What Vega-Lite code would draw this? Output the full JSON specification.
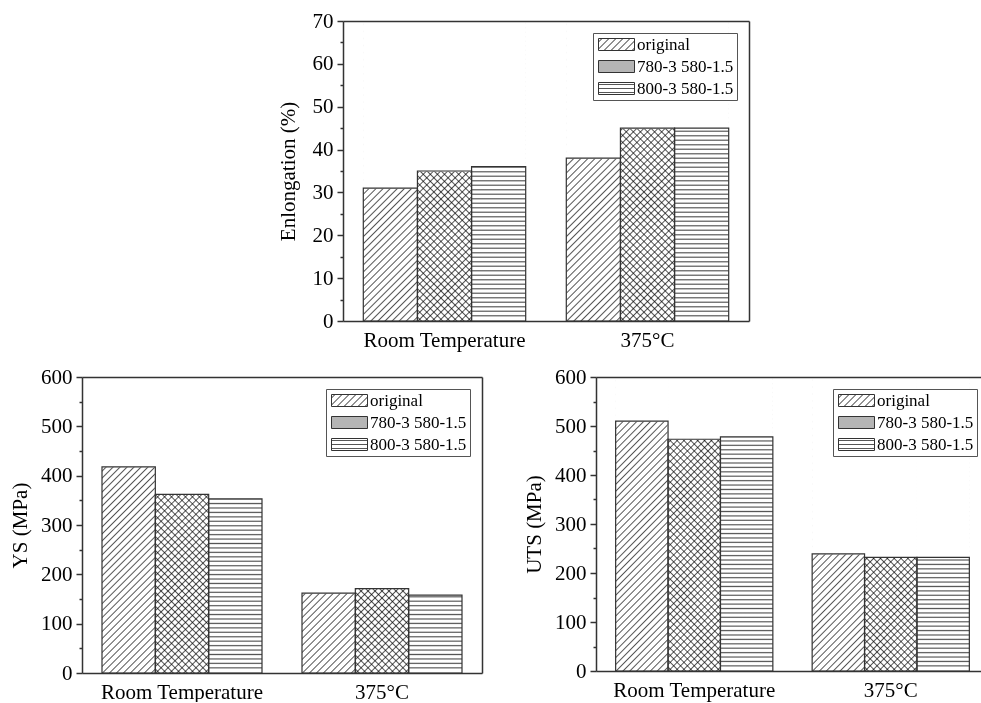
{
"$schema": "https://vega.github.io/schema/vega-lite/v6.json",
"background": "white",
"padding": {"left": 9, "top": 10, "right": 0, "bottom": 0},
"spacing": 16,
"resolve": {"scale": {"stroke": "independent", "xOffset": "independent"}, "legend": {"stroke": "independent"}},
"config": {
  "view": {"stroke": null},
  "axis": {"labelFont": "Liberation Serif", "labelFontSize": 21, "labelColor": "#000", "titleFont": "Liberation Serif", "titleFontSize": 21, "titleFontWeight": "normal", "titleColor": "#000", "domainColor": "#333", "domainWidth": 1.5, "tickColor": "#333", "tickWidth": 1.5, "grid": false, "zindex": 1, "labelPadding": 4, "titlePadding": 10},
  "legend": {"symbolType": "M-3,-1H3V1H-3Z", "symbolSize": 144, "symbolOffset": 12, "labelOffset": 12, "padding": 3, "rowPadding": 4, "strokeColor": "#555", "fillColor": "white", "labelFont": "Liberation Serif", "labelFontSize": 17, "labelColor": "#000", "symbolStrokeWidth": 1, "labelLimit": 300},
  "style": {
    "hatchA": {"color": {"gradient": "linear", "x1": 0, "y1": 0, "x2": 0.2056, "y2": 1.1414, "stops": [
{"offset":0.006,"color":"#fff"},{"offset":0.01,"color":"#555"},{"offset":0.014,"color":"#fff"},
{"offset":0.026,"color":"#fff"},{"offset":0.03,"color":"#555"},{"offset":0.034,"color":"#fff"},
{"offset":0.046,"color":"#fff"},{"offset":0.05,"color":"#555"},{"offset":0.054,"color":"#fff"},
{"offset":0.066,"color":"#fff"},{"offset":0.07,"color":"#555"},{"offset":0.074,"color":"#fff"},
{"offset":0.086,"color":"#fff"},{"offset":0.09,"color":"#555"},{"offset":0.094,"color":"#fff"},
{"offset":0.106,"color":"#fff"},{"offset":0.11,"color":"#555"},{"offset":0.114,"color":"#fff"},
{"offset":0.126,"color":"#fff"},{"offset":0.13,"color":"#555"},{"offset":0.134,"color":"#fff"},
{"offset":0.146,"color":"#fff"},{"offset":0.15,"color":"#555"},{"offset":0.154,"color":"#fff"},
{"offset":0.166,"color":"#fff"},{"offset":0.17,"color":"#555"},{"offset":0.174,"color":"#fff"},
{"offset":0.186,"color":"#fff"},{"offset":0.19,"color":"#555"},{"offset":0.194,"color":"#fff"},
{"offset":0.206,"color":"#fff"},{"offset":0.21,"color":"#555"},{"offset":0.214,"color":"#fff"},
{"offset":0.226,"color":"#fff"},{"offset":0.23,"color":"#555"},{"offset":0.234,"color":"#fff"},
{"offset":0.246,"color":"#fff"},{"offset":0.25,"color":"#555"},{"offset":0.254,"color":"#fff"},
{"offset":0.266,"color":"#fff"},{"offset":0.27,"color":"#555"},{"offset":0.274,"color":"#fff"},
{"offset":0.286,"color":"#fff"},{"offset":0.29,"color":"#555"},{"offset":0.294,"color":"#fff"},
{"offset":0.306,"color":"#fff"},{"offset":0.31,"color":"#555"},{"offset":0.314,"color":"#fff"},
{"offset":0.326,"color":"#fff"},{"offset":0.33,"color":"#555"},{"offset":0.334,"color":"#fff"},
{"offset":0.346,"color":"#fff"},{"offset":0.35,"color":"#555"},{"offset":0.354,"color":"#fff"},
{"offset":0.366,"color":"#fff"},{"offset":0.37,"color":"#555"},{"offset":0.374,"color":"#fff"},
{"offset":0.386,"color":"#fff"},{"offset":0.39,"color":"#555"},{"offset":0.394,"color":"#fff"},
{"offset":0.406,"color":"#fff"},{"offset":0.41,"color":"#555"},{"offset":0.414,"color":"#fff"},
{"offset":0.426,"color":"#fff"},{"offset":0.43,"color":"#555"},{"offset":0.434,"color":"#fff"},
{"offset":0.446,"color":"#fff"},{"offset":0.45,"color":"#555"},{"offset":0.454,"color":"#fff"},
{"offset":0.466,"color":"#fff"},{"offset":0.47,"color":"#555"},{"offset":0.474,"color":"#fff"},
{"offset":0.486,"color":"#fff"},{"offset":0.49,"color":"#555"},{"offset":0.494,"color":"#fff"},
{"offset":0.506,"color":"#fff"},{"offset":0.51,"color":"#555"},{"offset":0.514,"color":"#fff"},
{"offset":0.526,"color":"#fff"},{"offset":0.53,"color":"#555"},{"offset":0.534,"color":"#fff"},
{"offset":0.546,"color":"#fff"},{"offset":0.55,"color":"#555"},{"offset":0.554,"color":"#fff"},
{"offset":0.566,"color":"#fff"},{"offset":0.57,"color":"#555"},{"offset":0.574,"color":"#fff"},
{"offset":0.586,"color":"#fff"},{"offset":0.59,"color":"#555"},{"offset":0.594,"color":"#fff"},
{"offset":0.606,"color":"#fff"},{"offset":0.61,"color":"#555"},{"offset":0.614,"color":"#fff"},
{"offset":0.626,"color":"#fff"},{"offset":0.63,"color":"#555"},{"offset":0.634,"color":"#fff"},
{"offset":0.646,"color":"#fff"},{"offset":0.65,"color":"#555"},{"offset":0.654,"color":"#fff"},
{"offset":0.666,"color":"#fff"},{"offset":0.67,"color":"#555"},{"offset":0.674,"color":"#fff"},
{"offset":0.686,"color":"#fff"},{"offset":0.69,"color":"#555"},{"offset":0.694,"color":"#fff"},
{"offset":0.706,"color":"#fff"},{"offset":0.71,"color":"#555"},{"offset":0.714,"color":"#fff"},
{"offset":0.726,"color":"#fff"},{"offset":0.73,"color":"#555"},{"offset":0.734,"color":"#fff"},
{"offset":0.746,"color":"#fff"},{"offset":0.75,"color":"#555"},{"offset":0.754,"color":"#fff"},
{"offset":0.766,"color":"#fff"},{"offset":0.77,"color":"#555"},{"offset":0.774,"color":"#fff"},
{"offset":0.786,"color":"#fff"},{"offset":0.79,"color":"#555"},{"offset":0.794,"color":"#fff"},
{"offset":0.806,"color":"#fff"},{"offset":0.81,"color":"#555"},{"offset":0.814,"color":"#fff"},
{"offset":0.826,"color":"#fff"},{"offset":0.83,"color":"#555"},{"offset":0.834,"color":"#fff"},
{"offset":0.846,"color":"#fff"},{"offset":0.85,"color":"#555"},{"offset":0.854,"color":"#fff"},
{"offset":0.866,"color":"#fff"},{"offset":0.87,"color":"#555"},{"offset":0.874,"color":"#fff"},
{"offset":0.886,"color":"#fff"},{"offset":0.89,"color":"#555"},{"offset":0.894,"color":"#fff"},
{"offset":0.906,"color":"#fff"},{"offset":0.91,"color":"#555"},{"offset":0.914,"color":"#fff"},
{"offset":0.926,"color":"#fff"},{"offset":0.93,"color":"#555"},{"offset":0.934,"color":"#fff"},
{"offset":0.946,"color":"#fff"},{"offset":0.95,"color":"#555"},{"offset":0.954,"color":"#fff"},
{"offset":0.966,"color":"#fff"},{"offset":0.97,"color":"#555"},{"offset":0.974,"color":"#fff"},
{"offset":0.986,"color":"#fff"},{"offset":0.99,"color":"#555"},{"offset":0.994,"color":"#fff"}
    ]}},
    "hatchB": {"color": {"gradient": "linear", "x1": 1, "y1": 0, "x2": 0.7944, "y2": 1.1414, "stops": [
{"offset":0.006,"color":"#fff"},{"offset":0.01,"color":"#555"},{"offset":0.014,"color":"#fff"},
{"offset":0.026,"color":"#fff"},{"offset":0.03,"color":"#555"},{"offset":0.034,"color":"#fff"},
{"offset":0.046,"color":"#fff"},{"offset":0.05,"color":"#555"},{"offset":0.054,"color":"#fff"},
{"offset":0.066,"color":"#fff"},{"offset":0.07,"color":"#555"},{"offset":0.074,"color":"#fff"},
{"offset":0.086,"color":"#fff"},{"offset":0.09,"color":"#555"},{"offset":0.094,"color":"#fff"},
{"offset":0.106,"color":"#fff"},{"offset":0.11,"color":"#555"},{"offset":0.114,"color":"#fff"},
{"offset":0.126,"color":"#fff"},{"offset":0.13,"color":"#555"},{"offset":0.134,"color":"#fff"},
{"offset":0.146,"color":"#fff"},{"offset":0.15,"color":"#555"},{"offset":0.154,"color":"#fff"},
{"offset":0.166,"color":"#fff"},{"offset":0.17,"color":"#555"},{"offset":0.174,"color":"#fff"},
{"offset":0.186,"color":"#fff"},{"offset":0.19,"color":"#555"},{"offset":0.194,"color":"#fff"},
{"offset":0.206,"color":"#fff"},{"offset":0.21,"color":"#555"},{"offset":0.214,"color":"#fff"},
{"offset":0.226,"color":"#fff"},{"offset":0.23,"color":"#555"},{"offset":0.234,"color":"#fff"},
{"offset":0.246,"color":"#fff"},{"offset":0.25,"color":"#555"},{"offset":0.254,"color":"#fff"},
{"offset":0.266,"color":"#fff"},{"offset":0.27,"color":"#555"},{"offset":0.274,"color":"#fff"},
{"offset":0.286,"color":"#fff"},{"offset":0.29,"color":"#555"},{"offset":0.294,"color":"#fff"},
{"offset":0.306,"color":"#fff"},{"offset":0.31,"color":"#555"},{"offset":0.314,"color":"#fff"},
{"offset":0.326,"color":"#fff"},{"offset":0.33,"color":"#555"},{"offset":0.334,"color":"#fff"},
{"offset":0.346,"color":"#fff"},{"offset":0.35,"color":"#555"},{"offset":0.354,"color":"#fff"},
{"offset":0.366,"color":"#fff"},{"offset":0.37,"color":"#555"},{"offset":0.374,"color":"#fff"},
{"offset":0.386,"color":"#fff"},{"offset":0.39,"color":"#555"},{"offset":0.394,"color":"#fff"},
{"offset":0.406,"color":"#fff"},{"offset":0.41,"color":"#555"},{"offset":0.414,"color":"#fff"},
{"offset":0.426,"color":"#fff"},{"offset":0.43,"color":"#555"},{"offset":0.434,"color":"#fff"},
{"offset":0.446,"color":"#fff"},{"offset":0.45,"color":"#555"},{"offset":0.454,"color":"#fff"},
{"offset":0.466,"color":"#fff"},{"offset":0.47,"color":"#555"},{"offset":0.474,"color":"#fff"},
{"offset":0.486,"color":"#fff"},{"offset":0.49,"color":"#555"},{"offset":0.494,"color":"#fff"},
{"offset":0.506,"color":"#fff"},{"offset":0.51,"color":"#555"},{"offset":0.514,"color":"#fff"},
{"offset":0.526,"color":"#fff"},{"offset":0.53,"color":"#555"},{"offset":0.534,"color":"#fff"},
{"offset":0.546,"color":"#fff"},{"offset":0.55,"color":"#555"},{"offset":0.554,"color":"#fff"},
{"offset":0.566,"color":"#fff"},{"offset":0.57,"color":"#555"},{"offset":0.574,"color":"#fff"},
{"offset":0.586,"color":"#fff"},{"offset":0.59,"color":"#555"},{"offset":0.594,"color":"#fff"},
{"offset":0.606,"color":"#fff"},{"offset":0.61,"color":"#555"},{"offset":0.614,"color":"#fff"},
{"offset":0.626,"color":"#fff"},{"offset":0.63,"color":"#555"},{"offset":0.634,"color":"#fff"},
{"offset":0.646,"color":"#fff"},{"offset":0.65,"color":"#555"},{"offset":0.654,"color":"#fff"},
{"offset":0.666,"color":"#fff"},{"offset":0.67,"color":"#555"},{"offset":0.674,"color":"#fff"},
{"offset":0.686,"color":"#fff"},{"offset":0.69,"color":"#555"},{"offset":0.694,"color":"#fff"},
{"offset":0.706,"color":"#fff"},{"offset":0.71,"color":"#555"},{"offset":0.714,"color":"#fff"},
{"offset":0.726,"color":"#fff"},{"offset":0.73,"color":"#555"},{"offset":0.734,"color":"#fff"},
{"offset":0.746,"color":"#fff"},{"offset":0.75,"color":"#555"},{"offset":0.754,"color":"#fff"},
{"offset":0.766,"color":"#fff"},{"offset":0.77,"color":"#555"},{"offset":0.774,"color":"#fff"},
{"offset":0.786,"color":"#fff"},{"offset":0.79,"color":"#555"},{"offset":0.794,"color":"#fff"},
{"offset":0.806,"color":"#fff"},{"offset":0.81,"color":"#555"},{"offset":0.814,"color":"#fff"},
{"offset":0.826,"color":"#fff"},{"offset":0.83,"color":"#555"},{"offset":0.834,"color":"#fff"},
{"offset":0.846,"color":"#fff"},{"offset":0.85,"color":"#555"},{"offset":0.854,"color":"#fff"},
{"offset":0.866,"color":"#fff"},{"offset":0.87,"color":"#555"},{"offset":0.874,"color":"#fff"},
{"offset":0.886,"color":"#fff"},{"offset":0.89,"color":"#555"},{"offset":0.894,"color":"#fff"},
{"offset":0.906,"color":"#fff"},{"offset":0.91,"color":"#555"},{"offset":0.914,"color":"#fff"},
{"offset":0.926,"color":"#fff"},{"offset":0.93,"color":"#555"},{"offset":0.934,"color":"#fff"},
{"offset":0.946,"color":"#fff"},{"offset":0.95,"color":"#555"},{"offset":0.954,"color":"#fff"},
{"offset":0.966,"color":"#fff"},{"offset":0.97,"color":"#555"},{"offset":0.974,"color":"#fff"},
{"offset":0.986,"color":"#fff"},{"offset":0.99,"color":"#555"},{"offset":0.994,"color":"#fff"}
    ]}},
    "hatchH": {"color": {"gradient": "linear", "x1": 0, "y1": 0, "x2": 0, "y2": 1, "stops": [
{"offset":0.0035,"color":"#fff"},{"offset":0.0075,"color":"#555"},{"offset":0.0115,"color":"#fff"},
{"offset":0.0185,"color":"#fff"},{"offset":0.0225,"color":"#555"},{"offset":0.0265,"color":"#fff"},
{"offset":0.0335,"color":"#fff"},{"offset":0.0375,"color":"#555"},{"offset":0.0415,"color":"#fff"},
{"offset":0.0485,"color":"#fff"},{"offset":0.0525,"color":"#555"},{"offset":0.0565,"color":"#fff"},
{"offset":0.0635,"color":"#fff"},{"offset":0.0675,"color":"#555"},{"offset":0.0715,"color":"#fff"},
{"offset":0.0785,"color":"#fff"},{"offset":0.0825,"color":"#555"},{"offset":0.0865,"color":"#fff"},
{"offset":0.0935,"color":"#fff"},{"offset":0.0975,"color":"#555"},{"offset":0.1015,"color":"#fff"},
{"offset":0.1085,"color":"#fff"},{"offset":0.1125,"color":"#555"},{"offset":0.1165,"color":"#fff"},
{"offset":0.1235,"color":"#fff"},{"offset":0.1275,"color":"#555"},{"offset":0.1315,"color":"#fff"},
{"offset":0.1385,"color":"#fff"},{"offset":0.1425,"color":"#555"},{"offset":0.1465,"color":"#fff"},
{"offset":0.1535,"color":"#fff"},{"offset":0.1575,"color":"#555"},{"offset":0.1615,"color":"#fff"},
{"offset":0.1685,"color":"#fff"},{"offset":0.1725,"color":"#555"},{"offset":0.1765,"color":"#fff"},
{"offset":0.1835,"color":"#fff"},{"offset":0.1875,"color":"#555"},{"offset":0.1915,"color":"#fff"},
{"offset":0.1985,"color":"#fff"},{"offset":0.2025,"color":"#555"},{"offset":0.2065,"color":"#fff"},
{"offset":0.2135,"color":"#fff"},{"offset":0.2175,"color":"#555"},{"offset":0.2215,"color":"#fff"},
{"offset":0.2285,"color":"#fff"},{"offset":0.2325,"color":"#555"},{"offset":0.2365,"color":"#fff"},
{"offset":0.2435,"color":"#fff"},{"offset":0.2475,"color":"#555"},{"offset":0.2515,"color":"#fff"},
{"offset":0.2585,"color":"#fff"},{"offset":0.2625,"color":"#555"},{"offset":0.2665,"color":"#fff"},
{"offset":0.2735,"color":"#fff"},{"offset":0.2775,"color":"#555"},{"offset":0.2815,"color":"#fff"},
{"offset":0.2885,"color":"#fff"},{"offset":0.2925,"color":"#555"},{"offset":0.2965,"color":"#fff"},
{"offset":0.3035,"color":"#fff"},{"offset":0.3075,"color":"#555"},{"offset":0.3115,"color":"#fff"},
{"offset":0.3185,"color":"#fff"},{"offset":0.3225,"color":"#555"},{"offset":0.3265,"color":"#fff"},
{"offset":0.3335,"color":"#fff"},{"offset":0.3375,"color":"#555"},{"offset":0.3415,"color":"#fff"},
{"offset":0.3485,"color":"#fff"},{"offset":0.3525,"color":"#555"},{"offset":0.3565,"color":"#fff"},
{"offset":0.3635,"color":"#fff"},{"offset":0.3675,"color":"#555"},{"offset":0.3715,"color":"#fff"},
{"offset":0.3785,"color":"#fff"},{"offset":0.3825,"color":"#555"},{"offset":0.3865,"color":"#fff"},
{"offset":0.3935,"color":"#fff"},{"offset":0.3975,"color":"#555"},{"offset":0.4015,"color":"#fff"},
{"offset":0.4085,"color":"#fff"},{"offset":0.4125,"color":"#555"},{"offset":0.4165,"color":"#fff"},
{"offset":0.4235,"color":"#fff"},{"offset":0.4275,"color":"#555"},{"offset":0.4315,"color":"#fff"},
{"offset":0.4385,"color":"#fff"},{"offset":0.4425,"color":"#555"},{"offset":0.4465,"color":"#fff"},
{"offset":0.4535,"color":"#fff"},{"offset":0.4575,"color":"#555"},{"offset":0.4615,"color":"#fff"},
{"offset":0.4685,"color":"#fff"},{"offset":0.4725,"color":"#555"},{"offset":0.4765,"color":"#fff"},
{"offset":0.4835,"color":"#fff"},{"offset":0.4875,"color":"#555"},{"offset":0.4915,"color":"#fff"},
{"offset":0.4985,"color":"#fff"},{"offset":0.5025,"color":"#555"},{"offset":0.5065,"color":"#fff"},
{"offset":0.5135,"color":"#fff"},{"offset":0.5175,"color":"#555"},{"offset":0.5215,"color":"#fff"},
{"offset":0.5285,"color":"#fff"},{"offset":0.5325,"color":"#555"},{"offset":0.5365,"color":"#fff"},
{"offset":0.5435,"color":"#fff"},{"offset":0.5475,"color":"#555"},{"offset":0.5515,"color":"#fff"},
{"offset":0.5585,"color":"#fff"},{"offset":0.5625,"color":"#555"},{"offset":0.5665,"color":"#fff"},
{"offset":0.5735,"color":"#fff"},{"offset":0.5775,"color":"#555"},{"offset":0.5815,"color":"#fff"},
{"offset":0.5885,"color":"#fff"},{"offset":0.5925,"color":"#555"},{"offset":0.5965,"color":"#fff"},
{"offset":0.6035,"color":"#fff"},{"offset":0.6075,"color":"#555"},{"offset":0.6115,"color":"#fff"},
{"offset":0.6185,"color":"#fff"},{"offset":0.6225,"color":"#555"},{"offset":0.6265,"color":"#fff"},
{"offset":0.6335,"color":"#fff"},{"offset":0.6375,"color":"#555"},{"offset":0.6415,"color":"#fff"},
{"offset":0.6485,"color":"#fff"},{"offset":0.6525,"color":"#555"},{"offset":0.6565,"color":"#fff"},
{"offset":0.6635,"color":"#fff"},{"offset":0.6675,"color":"#555"},{"offset":0.6715,"color":"#fff"},
{"offset":0.6785,"color":"#fff"},{"offset":0.6825,"color":"#555"},{"offset":0.6865,"color":"#fff"},
{"offset":0.6935,"color":"#fff"},{"offset":0.6975,"color":"#555"},{"offset":0.7015,"color":"#fff"},
{"offset":0.7085,"color":"#fff"},{"offset":0.7125,"color":"#555"},{"offset":0.7165,"color":"#fff"},
{"offset":0.7235,"color":"#fff"},{"offset":0.7275,"color":"#555"},{"offset":0.7315,"color":"#fff"},
{"offset":0.7385,"color":"#fff"},{"offset":0.7425,"color":"#555"},{"offset":0.7465,"color":"#fff"},
{"offset":0.7535,"color":"#fff"},{"offset":0.7575,"color":"#555"},{"offset":0.7615,"color":"#fff"},
{"offset":0.7685,"color":"#fff"},{"offset":0.7725,"color":"#555"},{"offset":0.7765,"color":"#fff"},
{"offset":0.7835,"color":"#fff"},{"offset":0.7875,"color":"#555"},{"offset":0.7915,"color":"#fff"},
{"offset":0.7985,"color":"#fff"},{"offset":0.8025,"color":"#555"},{"offset":0.8065,"color":"#fff"},
{"offset":0.8135,"color":"#fff"},{"offset":0.8175,"color":"#555"},{"offset":0.8215,"color":"#fff"},
{"offset":0.8285,"color":"#fff"},{"offset":0.8325,"color":"#555"},{"offset":0.8365,"color":"#fff"},
{"offset":0.8435,"color":"#fff"},{"offset":0.8475,"color":"#555"},{"offset":0.8515,"color":"#fff"},
{"offset":0.8585,"color":"#fff"},{"offset":0.8625,"color":"#555"},{"offset":0.8665,"color":"#fff"},
{"offset":0.8735,"color":"#fff"},{"offset":0.8775,"color":"#555"},{"offset":0.8815,"color":"#fff"},
{"offset":0.8885,"color":"#fff"},{"offset":0.8925,"color":"#555"},{"offset":0.8965,"color":"#fff"},
{"offset":0.9035,"color":"#fff"},{"offset":0.9075,"color":"#555"},{"offset":0.9115,"color":"#fff"},
{"offset":0.9185,"color":"#fff"},{"offset":0.9225,"color":"#555"},{"offset":0.9265,"color":"#fff"},
{"offset":0.9335,"color":"#fff"},{"offset":0.9375,"color":"#555"},{"offset":0.9415,"color":"#fff"},
{"offset":0.9485,"color":"#fff"},{"offset":0.9525,"color":"#555"},{"offset":0.9565,"color":"#fff"},
{"offset":0.9635,"color":"#fff"},{"offset":0.9675,"color":"#555"},{"offset":0.9715,"color":"#fff"},
{"offset":0.9785,"color":"#fff"},{"offset":0.9825,"color":"#555"},{"offset":0.9865,"color":"#fff"}
    ]}}
  }
},
"vconcat": [
  {
    "spacing": 15,
    "resolve": {"scale": {"stroke": "independent", "xOffset": "independent"}, "legend": {"stroke": "independent"}},
    "hconcat": [
      {"width": 180, "height": 10, "data": {"values": []}, "mark": "point"},
      {
        "width": 406, "height": 300,
        "data": {"values": [
          {"condition": "Room Temperature", "series": "original", "value": 31},
          {"condition": "Room Temperature", "series": "780-3 580-1.5", "value": 35},
          {"condition": "Room Temperature", "series": "800-3 580-1.5", "value": 36},
          {"condition": "375°C", "series": "original", "value": 38},
          {"condition": "375°C", "series": "780-3 580-1.5", "value": 45},
          {"condition": "375°C", "series": "800-3 580-1.5", "value": 45}
        ]},
        "resolve": {"axis": {"x": "independent", "y": "independent"}},
        "encoding": {
          "x": {"field": "condition", "type": "nominal", "sort": null, "scale": {"domain": ["Room Temperature", "375°C"], "paddingInner": 0.2, "paddingOuter": 0.1}, "axis": null},
          "xOffset": {"field": "series", "type": "nominal", "sort": null, "scale": {"domain": ["original", "780-3 580-1.5", "800-3 580-1.5"]}}
        },
        "layer": [
          {"transform": [{"filter": {"field": "series", "oneOf": ["original", "780-3 580-1.5"]}}], "mark": {"type": "bar", "style": "hatchA"}, "encoding": {"y": {"datum": 70, "type": "quantitative", "scale": {"domain": [0, 70]}, "axis": null}, "y2": {"datum": 0}}},
          {"transform": [{"filter": {"field": "series", "equal": "780-3 580-1.5"}}], "mark": {"type": "bar", "style": "hatchB", "blend": "multiply"}, "encoding": {"y": {"datum": 70, "type": "quantitative", "scale": {"domain": [0, 70]}, "axis": null}, "y2": {"datum": 0}}},
          {"transform": [{"filter": {"field": "series", "equal": "800-3 580-1.5"}}], "mark": {"type": "bar", "style": "hatchH"}, "encoding": {"y": {"datum": 70, "type": "quantitative", "scale": {"domain": [0, 70]}, "axis": null}, "y2": {"datum": 0}}},
          {"mark": {"type": "bar", "fill": "white", "stroke": "white", "strokeWidth": 1}, "encoding": {
            "x": {"field": "condition", "type": "nominal", "sort": null, "scale": {"domain": ["Room Temperature", "375°C"], "paddingInner": 0.2, "paddingOuter": 0.1}, "axis": {"orient": "top", "title": null, "ticks": false, "labels": false, "zindex": 2}},
            "y": {"field": "value", "type": "quantitative", "stack": null, "scale": {"domain": [0, 70]}, "axis": {"orient": "right", "title": null, "ticks": false, "labels": false, "zindex": 2}},
            "y2": {"datum": 70}}},
          {"mark": {"type": "bar", "fill": "transparent", "strokeWidth": 1.2}, "encoding": {
            "x": {"field": "condition", "type": "nominal", "sort": null, "scale": {"domain": ["Room Temperature", "375°C"], "paddingInner": 0.2, "paddingOuter": 0.1}, "axis": {"orient": "bottom", "title": null, "ticks": false, "labelAngle": 0, "labelPadding": 8, "zindex": 2}},
            "y": {"field": "value", "type": "quantitative", "stack": null, "scale": {"domain": [0, 70]}, "axis": {"orient": "left", "zindex": 2, "titlePadding": 14, "title": "Enlongation (%)", "values": [0,5,10,15,20,25,30,35,40,45,50,55,60,65,70], "labelExpr": "datum.value % 10 === 0 ? datum.label : ''", "tickSize": {"condition": {"test": "datum.value % 10 !== 0", "value": 3}, "value": 6}}},
            "stroke": {"field": "series", "type": "nominal", "scale": {"domain": ["original", "780-3 580-1.5", "800-3 580-1.5"], "range": ["#333", "#333", "#333"]},
              "legend": {"title": null, "orient": "top-right", "offset": 12, "encoding": {"symbols": {"fill": {"condition": [
                {"test": "datum.value === 'original'", "value": {"gradient":"linear","x1":0,"y1":0,"x2":1.2,"y2":0.4,"stops":[{"offset":0.044,"color":"#fff"},{"offset":0.073,"color":"#555"},{"offset":0.102,"color":"#fff"},{"offset":0.19,"color":"#fff"},{"offset":0.219,"color":"#555"},{"offset":0.248,"color":"#fff"},{"offset":0.336,"color":"#fff"},{"offset":0.365,"color":"#555"},{"offset":0.394,"color":"#fff"},{"offset":0.481,"color":"#fff"},{"offset":0.51,"color":"#555"},{"offset":0.539,"color":"#fff"},{"offset":0.627,"color":"#fff"},{"offset":0.656,"color":"#555"},{"offset":0.685,"color":"#fff"},{"offset":0.773,"color":"#fff"},{"offset":0.802,"color":"#555"},{"offset":0.831,"color":"#fff"},{"offset":0.919,"color":"#fff"},{"offset":0.948,"color":"#555"},{"offset":0.977,"color":"#fff"}]}},
                {"test": "datum.value === '780-3 580-1.5'", "value": "#b5b5b5"}],
                "value": {"gradient":"linear","x1":0,"y1":0,"x2":0,"y2":1,"stops":[{"offset":0.117,"color":"#fff"},{"offset":0.167,"color":"#555"},{"offset":0.217,"color":"#fff"},{"offset":0.45,"color":"#fff"},{"offset":0.5,"color":"#555"},{"offset":0.55,"color":"#fff"},{"offset":0.783,"color":"#fff"},{"offset":0.833,"color":"#555"},{"offset":0.883,"color":"#fff"}]}}}}}}}}
        ]
      }
    ]
  },
  {
    "spacing": 41,
    "resolve": {"scale": {"stroke": "independent", "xOffset": "independent"}, "legend": {"stroke": "independent"}},
    "hconcat": [
      {
        "width": 400, "height": 296,
        "data": {"values": [
          {"condition": "Room Temperature", "series": "original", "value": 418},
          {"condition": "Room Temperature", "series": "780-3 580-1.5", "value": 362},
          {"condition": "Room Temperature", "series": "800-3 580-1.5", "value": 353},
          {"condition": "375°C", "series": "original", "value": 162},
          {"condition": "375°C", "series": "780-3 580-1.5", "value": 171},
          {"condition": "375°C", "series": "800-3 580-1.5", "value": 158}
        ]},
        "resolve": {"axis": {"x": "independent", "y": "independent"}},
        "encoding": {
          "x": {"field": "condition", "type": "nominal", "sort": null, "scale": {"domain": ["Room Temperature", "375°C"], "paddingInner": 0.2, "paddingOuter": 0.1}, "axis": null},
          "xOffset": {"field": "series", "type": "nominal", "sort": null, "scale": {"domain": ["original", "780-3 580-1.5", "800-3 580-1.5"]}}
        },
        "layer": [
          {"transform": [{"filter": {"field": "series", "oneOf": ["original", "780-3 580-1.5"]}}], "mark": {"type": "bar", "style": "hatchA"}, "encoding": {"y": {"datum": 600, "type": "quantitative", "scale": {"domain": [0, 600]}, "axis": null}, "y2": {"datum": 0}}},
          {"transform": [{"filter": {"field": "series", "equal": "780-3 580-1.5"}}], "mark": {"type": "bar", "style": "hatchB", "blend": "multiply"}, "encoding": {"y": {"datum": 600, "type": "quantitative", "scale": {"domain": [0, 600]}, "axis": null}, "y2": {"datum": 0}}},
          {"transform": [{"filter": {"field": "series", "equal": "800-3 580-1.5"}}], "mark": {"type": "bar", "style": "hatchH"}, "encoding": {"y": {"datum": 600, "type": "quantitative", "scale": {"domain": [0, 600]}, "axis": null}, "y2": {"datum": 0}}},
          {"mark": {"type": "bar", "fill": "white", "stroke": "white", "strokeWidth": 1}, "encoding": {
            "x": {"field": "condition", "type": "nominal", "sort": null, "scale": {"domain": ["Room Temperature", "375°C"], "paddingInner": 0.2, "paddingOuter": 0.1}, "axis": {"orient": "top", "title": null, "ticks": false, "labels": false, "zindex": 2}},
            "y": {"field": "value", "type": "quantitative", "stack": null, "scale": {"domain": [0, 600]}, "axis": {"orient": "right", "title": null, "ticks": false, "labels": false, "zindex": 2}},
            "y2": {"datum": 600}}},
          {"mark": {"type": "bar", "fill": "transparent", "strokeWidth": 1.2}, "encoding": {
            "x": {"field": "condition", "type": "nominal", "sort": null, "scale": {"domain": ["Room Temperature", "375°C"], "paddingInner": 0.2, "paddingOuter": 0.1}, "axis": {"orient": "bottom", "title": null, "ticks": false, "labelAngle": 0, "labelPadding": 8, "zindex": 2}},
            "y": {"field": "value", "type": "quantitative", "stack": null, "scale": {"domain": [0, 600]}, "axis": {"orient": "left", "zindex": 2, "title": "YS (MPa)", "values": [0,50,100,150,200,250,300,350,400,450,500,550,600], "labelExpr": "datum.value % 100 === 0 ? datum.label : ''", "tickSize": {"condition": {"test": "datum.value % 100 !== 0", "value": 3}, "value": 6}}},
            "stroke": {"field": "series", "type": "nominal", "scale": {"domain": ["original", "780-3 580-1.5", "800-3 580-1.5"], "range": ["#333", "#333", "#333"]},
              "legend": {"title": null, "orient": "top-right", "offset": 12, "encoding": {"symbols": {"fill": {"condition": [
                {"test": "datum.value === 'original'", "value": {"gradient":"linear","x1":0,"y1":0,"x2":1.2,"y2":0.4,"stops":[{"offset":0.044,"color":"#fff"},{"offset":0.073,"color":"#555"},{"offset":0.102,"color":"#fff"},{"offset":0.19,"color":"#fff"},{"offset":0.219,"color":"#555"},{"offset":0.248,"color":"#fff"},{"offset":0.336,"color":"#fff"},{"offset":0.365,"color":"#555"},{"offset":0.394,"color":"#fff"},{"offset":0.481,"color":"#fff"},{"offset":0.51,"color":"#555"},{"offset":0.539,"color":"#fff"},{"offset":0.627,"color":"#fff"},{"offset":0.656,"color":"#555"},{"offset":0.685,"color":"#fff"},{"offset":0.773,"color":"#fff"},{"offset":0.802,"color":"#555"},{"offset":0.831,"color":"#fff"},{"offset":0.919,"color":"#fff"},{"offset":0.948,"color":"#555"},{"offset":0.977,"color":"#fff"}]}},
                {"test": "datum.value === '780-3 580-1.5'", "value": "#b5b5b5"}],
                "value": {"gradient":"linear","x1":0,"y1":0,"x2":0,"y2":1,"stops":[{"offset":0.117,"color":"#fff"},{"offset":0.167,"color":"#555"},{"offset":0.217,"color":"#fff"},{"offset":0.45,"color":"#fff"},{"offset":0.5,"color":"#555"},{"offset":0.55,"color":"#fff"},{"offset":0.783,"color":"#fff"},{"offset":0.833,"color":"#555"},{"offset":0.883,"color":"#fff"}]}}}}}}}}
        ]
      },
      {
        "width": 393, "height": 294,
        "data": {"values": [
          {"condition": "Room Temperature", "series": "original", "value": 510},
          {"condition": "Room Temperature", "series": "780-3 580-1.5", "value": 473},
          {"condition": "Room Temperature", "series": "800-3 580-1.5", "value": 478},
          {"condition": "375°C", "series": "original", "value": 239},
          {"condition": "375°C", "series": "780-3 580-1.5", "value": 232},
          {"condition": "375°C", "series": "800-3 580-1.5", "value": 232}
        ]},
        "resolve": {"axis": {"x": "independent", "y": "independent"}},
        "encoding": {
          "x": {"field": "condition", "type": "nominal", "sort": null, "scale": {"domain": ["Room Temperature", "375°C"], "paddingInner": 0.2, "paddingOuter": 0.1}, "axis": null},
          "xOffset": {"field": "series", "type": "nominal", "sort": null, "scale": {"domain": ["original", "780-3 580-1.5", "800-3 580-1.5"]}}
        },
        "layer": [
          {"transform": [{"filter": {"field": "series", "oneOf": ["original", "780-3 580-1.5"]}}], "mark": {"type": "bar", "style": "hatchA"}, "encoding": {"y": {"datum": 600, "type": "quantitative", "scale": {"domain": [0, 600]}, "axis": null}, "y2": {"datum": 0}}},
          {"transform": [{"filter": {"field": "series", "equal": "780-3 580-1.5"}}], "mark": {"type": "bar", "style": "hatchB", "blend": "multiply"}, "encoding": {"y": {"datum": 600, "type": "quantitative", "scale": {"domain": [0, 600]}, "axis": null}, "y2": {"datum": 0}}},
          {"transform": [{"filter": {"field": "series", "equal": "800-3 580-1.5"}}], "mark": {"type": "bar", "style": "hatchH"}, "encoding": {"y": {"datum": 600, "type": "quantitative", "scale": {"domain": [0, 600]}, "axis": null}, "y2": {"datum": 0}}},
          {"mark": {"type": "bar", "fill": "white", "stroke": "white", "strokeWidth": 1}, "encoding": {
            "x": {"field": "condition", "type": "nominal", "sort": null, "scale": {"domain": ["Room Temperature", "375°C"], "paddingInner": 0.2, "paddingOuter": 0.1}, "axis": {"orient": "top", "title": null, "ticks": false, "labels": false, "zindex": 2}},
            "y": {"field": "value", "type": "quantitative", "stack": null, "scale": {"domain": [0, 600]}, "axis": {"orient": "right", "title": null, "ticks": false, "labels": false, "zindex": 2}},
            "y2": {"datum": 600}}},
          {"mark": {"type": "bar", "fill": "transparent", "strokeWidth": 1.2}, "encoding": {
            "x": {"field": "condition", "type": "nominal", "sort": null, "scale": {"domain": ["Room Temperature", "375°C"], "paddingInner": 0.2, "paddingOuter": 0.1}, "axis": {"orient": "bottom", "title": null, "ticks": false, "labelAngle": 0, "labelPadding": 8, "zindex": 2}},
            "y": {"field": "value", "type": "quantitative", "stack": null, "scale": {"domain": [0, 600]}, "axis": {"orient": "left", "zindex": 2, "title": "UTS (MPa)", "values": [0,50,100,150,200,250,300,350,400,450,500,550,600], "labelExpr": "datum.value % 100 === 0 ? datum.label : ''", "tickSize": {"condition": {"test": "datum.value % 100 !== 0", "value": 3}, "value": 6}}},
            "stroke": {"field": "series", "type": "nominal", "scale": {"domain": ["original", "780-3 580-1.5", "800-3 580-1.5"], "range": ["#333", "#333", "#333"]},
              "legend": {"title": null, "orient": "top-right", "offset": 12, "encoding": {"symbols": {"fill": {"condition": [
                {"test": "datum.value === 'original'", "value": {"gradient":"linear","x1":0,"y1":0,"x2":1.2,"y2":0.4,"stops":[{"offset":0.044,"color":"#fff"},{"offset":0.073,"color":"#555"},{"offset":0.102,"color":"#fff"},{"offset":0.19,"color":"#fff"},{"offset":0.219,"color":"#555"},{"offset":0.248,"color":"#fff"},{"offset":0.336,"color":"#fff"},{"offset":0.365,"color":"#555"},{"offset":0.394,"color":"#fff"},{"offset":0.481,"color":"#fff"},{"offset":0.51,"color":"#555"},{"offset":0.539,"color":"#fff"},{"offset":0.627,"color":"#fff"},{"offset":0.656,"color":"#555"},{"offset":0.685,"color":"#fff"},{"offset":0.773,"color":"#fff"},{"offset":0.802,"color":"#555"},{"offset":0.831,"color":"#fff"},{"offset":0.919,"color":"#fff"},{"offset":0.948,"color":"#555"},{"offset":0.977,"color":"#fff"}]}},
                {"test": "datum.value === '780-3 580-1.5'", "value": "#b5b5b5"}],
                "value": {"gradient":"linear","x1":0,"y1":0,"x2":0,"y2":1,"stops":[{"offset":0.117,"color":"#fff"},{"offset":0.167,"color":"#555"},{"offset":0.217,"color":"#fff"},{"offset":0.45,"color":"#fff"},{"offset":0.5,"color":"#555"},{"offset":0.55,"color":"#fff"},{"offset":0.783,"color":"#fff"},{"offset":0.833,"color":"#555"},{"offset":0.883,"color":"#fff"}]}}}}}}}}
        ]
      }
    ]
  }
]
}
